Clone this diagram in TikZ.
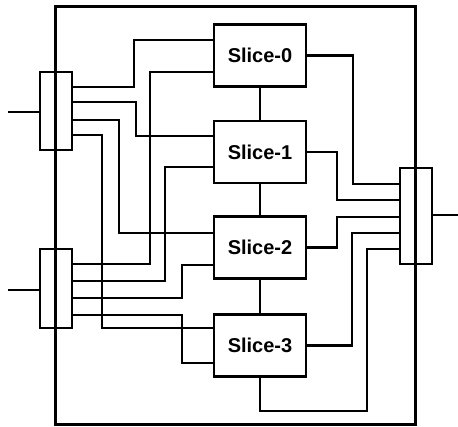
\documentclass[tikz,border=0pt]{standalone}
\usepackage{fontspec}
\setmainfont{Liberation Sans}
\usepackage{tikz}

\begin{document}
\begin{tikzpicture}[x=1pt, y=-1pt, line width=2.6pt,
    slice/.style={rectangle, draw, minimum width=92pt, minimum height=62pt, font=\fontsize{20}{22}\selectfont\bfseries},
    mux/.style={rectangle, draw, minimum width=32pt, inner sep=0pt}]
    \useasboundingbox (0,0) rectangle (458,427);

    % Caixa externa
    \draw[line width=3pt] (55,7) rectangle (415,425);

    % Posicionar as fatias
    \node[slice] (slice0) at (260,55.5) {Slice-0};
    \node[slice] (slice1) at (260,152) {Slice-1};
    \node[slice] (slice2) at (260,247.5) {Slice-2};
    \node[slice] (slice3) at (260,345.5) {Slice-3};

    % Multiplexadores
    \node[mux, minimum height=78pt] (muxA) at (56,111) {};
    \node[mux, minimum height=79pt] (muxB) at (56,288.5) {};
    \node[mux, minimum height=96pt] (muxOut) at (416,216) {};

    % Entradas e saida
    \coordinate (inA) at (8,112);
    \coordinate (inB) at (8,290);
    \coordinate (out) at (458,215);
    \draw (inA) -- (muxA.west |- inA);
    \draw (inB) -- (muxB.west |- inB);
    \draw (muxOut.east |- out) -- (out);

    % Ligacoes entre fatias
    \draw (slice0) -- (slice1);
    \draw (slice1) -- (slice2);
    \draw (slice2) -- (slice3);

    % Saidas do muxA
    \draw (muxA.east |- 0,87) -| (134,40) -- (slice0.west |- 0,40);
    \draw (muxA.east |- 0,102) -| (136,136) -- (slice1.west |- 0,136);
    \draw (muxA.east |- 0,120) -| (119,233) -- (slice2.west |- 0,233);
    \draw (muxA.east |- 0,135) -| (102,328) -- (slice3.west |- 0,328);

    % Entradas do muxB
    \draw (slice0.west |- 0,72) -| (150,264) -- (muxB.east |- 0,264);
    \draw (slice1.west |- 0,167) -| (165,281) -- (muxB.east |- 0,281);
    \draw (slice2.west |- 0,265) -| (182,298) -- (muxB.east |- 0,298);
    \draw (slice3.west |- 0,363) -| (182,315) -- (muxB.east |- 0,315);

    % Entradas do muxOut
    \draw (slice0.east) -| (353,184) -- (muxOut.west |- 0,184);
    \draw (slice1.east) -| (337,200) -- (muxOut.west |- 0,200);
    \draw (slice2.east) -| (337,217) -- (muxOut.west |- 0,217);
    \draw (slice3.east) -| (352,233) -- (muxOut.west |- 0,233);
    \draw (slice3.south) |- (367,411) -- (367,249) -- (muxOut.west |- 0,249);
\end{tikzpicture}
\end{document}
